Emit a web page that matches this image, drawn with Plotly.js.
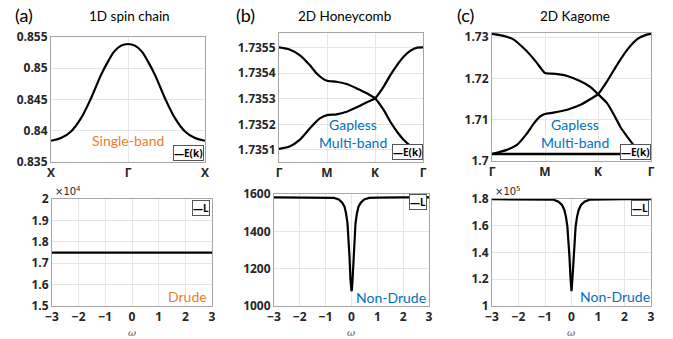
<!DOCTYPE html>
<html><head><meta charset="utf-8">
<script src="https://cdn.plot.ly/plotly-3.0.1.min.js"></script>
<style>html,body{margin:0;padding:0;background:#fff}#chart{width:673px;height:339px}</style>
</head><body><div id="chart"></div>
<script>
// ---------- data ----------
// (a) 1D spin chain: E(k) along X - Γ - X
const kChain = [-1,-0.87,-0.74,-0.61,-0.48,-0.35,-0.26,-0.18,-0.09,0,0.09,0.18,0.26,0.35,0.48,0.61,0.74,0.87,1];
const eChain = [0.83840,0.83883,0.83989,0.84202,0.84521,0.84894,0.85106,0.85266,0.85362,0.85388,0.85362,0.85266,0.85106,0.84894,0.84521,0.84202,0.83989,0.83883,0.83840];
const chainTickVals = [-1,0,1];
const chainTickText = ['X','Γ','X'];

// (b) 2D honeycomb: two bands along Γ - M - K - Γ
const kHoneyA = [0,0.22,0.43,0.64,0.78,0.92,1,1.2,1.41,1.62,1.83,2,2.18,2.32,2.46,2.6,2.74,2.88,3];
const eHoneyA = [1.735500,1.735492,1.735470,1.735431,1.735399,1.735377,1.735370,1.735366,1.735357,1.735340,1.735321,1.735301,1.735256,1.735210,1.735171,1.735139,1.735117,1.735106,1.735104];
const kHoneyB = [0,0.22,0.43,0.64,0.85,1,1.2,1.41,1.62,1.83,2,2.18,2.32,2.46,2.6,2.74,2.88,3];
const eHoneyB = [1.735104,1.735113,1.735139,1.735184,1.735223,1.735236,1.735239,1.735249,1.735266,1.735286,1.735301,1.735347,1.735392,1.735431,1.735464,1.735487,1.735499,1.735500];

// (c) 2D kagome: two dispersive bands + flat band
const kKagA = [0,0.22,0.41,0.6,0.72,0.85,0.95,1,1.2,1.42,1.67,1.86,2,2.17,2.3,2.42,2.55,2.67,2.8,2.92,3];
const eKagA = [1.7308,1.7303,1.7294,1.7273,1.7257,1.7237,1.7220,1.7213,1.7211,1.7206,1.7193,1.7179,1.7162,1.7140,1.7112,1.7083,1.7059,1.7039,1.7027,1.7020,1.7017];
const kKagB = [0,0.28,0.47,0.66,0.79,0.91,1,1.16,1.42,1.67,1.86,2,2.17,2.36,2.55,2.74,2.92,3];
const eKagB = [1.7017,1.7027,1.7039,1.7067,1.7091,1.7108,1.7114,1.7117,1.7124,1.7136,1.7150,1.7162,1.7193,1.7233,1.7269,1.7295,1.7306,1.7308];
const kKagFlat = [0,3];
const eKagFlat = [1.7017,1.7017];
const latTickVals = [0,1,2,3];
const latTickText = ['Γ','M','K','Γ'];

// bottom row: L(ω)
const omegaA = [-3,3];
const lA = [17490,17490];
const omegaDip = [-3,-2,-1,-0.68,-0.49,-0.36,-0.27,-0.21,-0.155,-0.116,-0.077,-0.04,-0.013,0,0.013,0.04,0.077,0.116,0.155,0.21,0.27,0.36,0.49,0.68,1,2,3];
const lB = [1582,1582,1581,1579,1571,1554,1532,1496,1443,1371,1264,1139,1086,1080,1086,1139,1264,1371,1443,1496,1532,1554,1571,1579,1581,1582,1582];
const lC = [179800,179800,179700,179500,178000,175500,171800,166800,159300,150600,136900,121900,114500,111000,114500,121900,136900,150600,159300,166800,171800,175500,178000,179500,179700,179800,179800];
const omegaTicks = [-3,-2,-1,0,1,2,3];

// tick labels
const yTicksA1 = [0.835,0.84,0.845,0.85,0.855];
const yTextA1 = ['0.835','0.84','0.845','0.85','0.855'];
const yTicksB1 = [1.7351,1.7352,1.7353,1.7354,1.7355];
const yTextB1 = ['1.7351','1.7352','1.7353','1.7354','1.7355'];
const yTicksC1 = [1.70,1.71,1.72,1.73];
const yTextC1 = ['1.7','1.71','1.72','1.73'];
const yTicksA2 = [15000,16000,17000,18000,19000,20000];
const yTextA2 = ['1.5','1.6','1.7','1.8','1.9','2'];
const yTicksB2 = [1000,1200,1400,1600];
const yTextB2 = ['1000','1200','1400','1600'];
const yTicksC2 = [100000,120000,140000,160000,180000];
const yTextC2 = ['1','1.2','1.4','1.6','1.8'];

// ---------- figure ----------
const W = 673, H = 339;
const px = v => v / W;
const py = v => 1 - v / H;
const TXT = 'Lato, "Open Sans", sans-serif';
const ORANGE = '#ED7D31', BLUE = '#0070C0';
const tickfont = {family: '"Open Sans", sans-serif', size: 12, color: '#262626', weight: 'bold'};

function ax(domain, extra) {
  return Object.assign({
    domain: domain, showline: true, mirror: true, linecolor: '#a6a6a6', linewidth: 1,
    showgrid: true, gridcolor: '#e6e6e6', gridwidth: 1, zeroline: false, ticks: '',
    tickfont: tickfont, fixedrange: true
  }, extra);
}

const line = {color: '#000', width: 2.2};
const smooth = Object.assign({}, line, {shape: 'spline', smoothing: 0.6});
const traces = [
  {x: kChain, y: eChain, xaxis: 'x', yaxis: 'y', mode: 'lines', line: Object.assign({}, line, {shape: 'spline', smoothing: 1}), name: 'E(k)'},
  {x: omegaA, y: lA, xaxis: 'x2', yaxis: 'y2', mode: 'lines', line: line, name: 'L'},
  {x: kHoneyA, y: eHoneyA, xaxis: 'x3', yaxis: 'y3', mode: 'lines', line: smooth, name: 'E(k)'},
  {x: kHoneyB, y: eHoneyB, xaxis: 'x3', yaxis: 'y3', mode: 'lines', line: smooth, name: 'E(k)'},
  {x: omegaDip, y: lB, xaxis: 'x4', yaxis: 'y4', mode: 'lines', line: line, name: 'L'},
  {x: kKagA, y: eKagA, xaxis: 'x5', yaxis: 'y5', mode: 'lines', line: smooth, name: 'E(k)'},
  {x: kKagB, y: eKagB, xaxis: 'x5', yaxis: 'y5', mode: 'lines', line: smooth, name: 'E(k)'},
  {x: kKagFlat, y: eKagFlat, xaxis: 'x5', yaxis: 'y5', mode: 'lines', line: {color: '#000', width: 2.6}, name: 'E(k)'},
  {x: omegaDip, y: lC, xaxis: 'x6', yaxis: 'y6', mode: 'lines', line: line, name: 'L'}
];

function ann(text, x, y, size, color, opts) {
  return Object.assign({text: text, xref: 'paper', yref: 'paper', x: px(x), y: py(y), showarrow: false,
    xanchor: 'center', yanchor: 'middle', font: {family: TXT, size: size, color: color}}, opts || {});
}
function legendBox(text, xRight, yBottom) {
  return {text: '<b>—' + text + '</b>', xref: 'paper', yref: 'paper', x: px(xRight), y: py(yBottom),
    xanchor: 'right', yanchor: 'bottom', showarrow: false, bgcolor: '#fff', bordercolor: '#555',
    borderwidth: 1, borderpad: 0, font: {family: '"Open Sans", sans-serif', size: 10, color: '#000'}};
}
const expFont = {family: '"DejaVu Sans", sans-serif', size: 10, color: '#262626'};
const omegaFont = {family: '"DejaVu Serif", serif', size: 10, color: '#555'};

const annotations = [
  ann('(a)', 24, 15, 18, '#000'),
  ann('1D spin chain', 129, 16, 13.5, '#000'),
  ann('(b)', 246, 15, 18, '#000'),
  ann('2D Honeycomb', 345, 16, 13.5, '#000'),
  ann('(c)', 465, 15, 18, '#000'),
  ann('2D Kagome', 575, 16, 13.5, '#000'),
  ann('Single-band', 128, 140, 14, ORANGE),
  ann('Gapless', 353, 124, 14, BLUE),
  ann('Multi-band', 353, 142, 14, BLUE),
  ann('Gapless', 575, 124, 14, BLUE),
  ann('Multi-band', 575, 142, 14, BLUE),
  ann('Drude', 187, 296, 14, ORANGE),
  ann('Non-Drude', 391, 297, 14, BLUE),
  ann('Non-Drude', 615, 296, 14, BLUE),
  ann('×10<sup>4</sup>', 53, 199, 11, '#262626', {xanchor: 'left', yanchor: 'bottom', font: expFont}),
  ann('×10<sup>5</sup>', 493, 199, 11, '#262626', {xanchor: 'left', yanchor: 'bottom', font: expFont}),
  ann('<i>ω</i>', 132, 332, 11, '#555', {font: omegaFont}),
  ann('<i>ω</i>', 351, 332, 11, '#555', {font: omegaFont}),
  ann('<i>ω</i>', 571, 332, 11, '#555', {font: omegaFont}),
  legendBox('E(k)', 204, 161),
  legendBox('E(k)', 423, 160),
  legendBox('E(k)', 651, 160),
  legendBox('L', 210, 216),
  legendBox('L', 427, 210),
  legendBox('L', 649, 216)
];

const layout = {
  width: W, height: H, margin: {l: 0, r: 0, t: 0, b: 0},
  paper_bgcolor: '#fff', plot_bgcolor: '#fff', showlegend: false,
  xaxis: ax([px(51), px(205)], {anchor: 'y', range: [-1, 1], tickvals: chainTickVals, ticktext: chainTickText}),
  yaxis: ax([py(162), py(37)], {anchor: 'x', range: [0.835, 0.855], tickvals: yTicksA1, ticktext: yTextA1}),
  xaxis2: ax([px(52), px(212)], {anchor: 'y2', range: [-3, 3], tickvals: omegaTicks}),
  yaxis2: ax([py(306), py(199)], {anchor: 'x2', range: [15000, 20000], tickvals: yTicksA2, ticktext: yTextA2}),
  xaxis3: ax([px(279), px(423)], {anchor: 'y3', range: [0, 3], tickvals: latTickVals, ticktext: latTickText}),
  yaxis3: ax([py(162), py(33)], {anchor: 'x3', range: [1.735053, 1.735556], tickvals: yTicksB1, ticktext: yTextB1}),
  xaxis4: ax([px(274), px(429)], {anchor: 'y4', range: [-3, 3], tickvals: omegaTicks}),
  yaxis4: ax([py(306), py(194)], {anchor: 'x4', range: [1000, 1600], tickvals: yTicksB2, ticktext: yTextB2}),
  xaxis5: ax([px(492), px(651)], {anchor: 'y5', range: [0, 3], tickvals: latTickVals, ticktext: latTickText}),
  yaxis5: ax([py(161), py(33)], {anchor: 'x5', range: [1.7, 1.731], tickvals: yTicksC1, ticktext: yTextC1}),
  xaxis6: ax([px(492), px(651)], {anchor: 'y6', range: [-3, 3], tickvals: omegaTicks}),
  yaxis6: ax([py(306), py(199)], {anchor: 'x6', range: [100000, 180000], tickvals: yTicksC2, ticktext: yTextC2}),
  annotations: annotations
};

Plotly.newPlot('chart', traces, layout, {staticPlot: true, displayModeBar: false});
</script>
</body></html>
